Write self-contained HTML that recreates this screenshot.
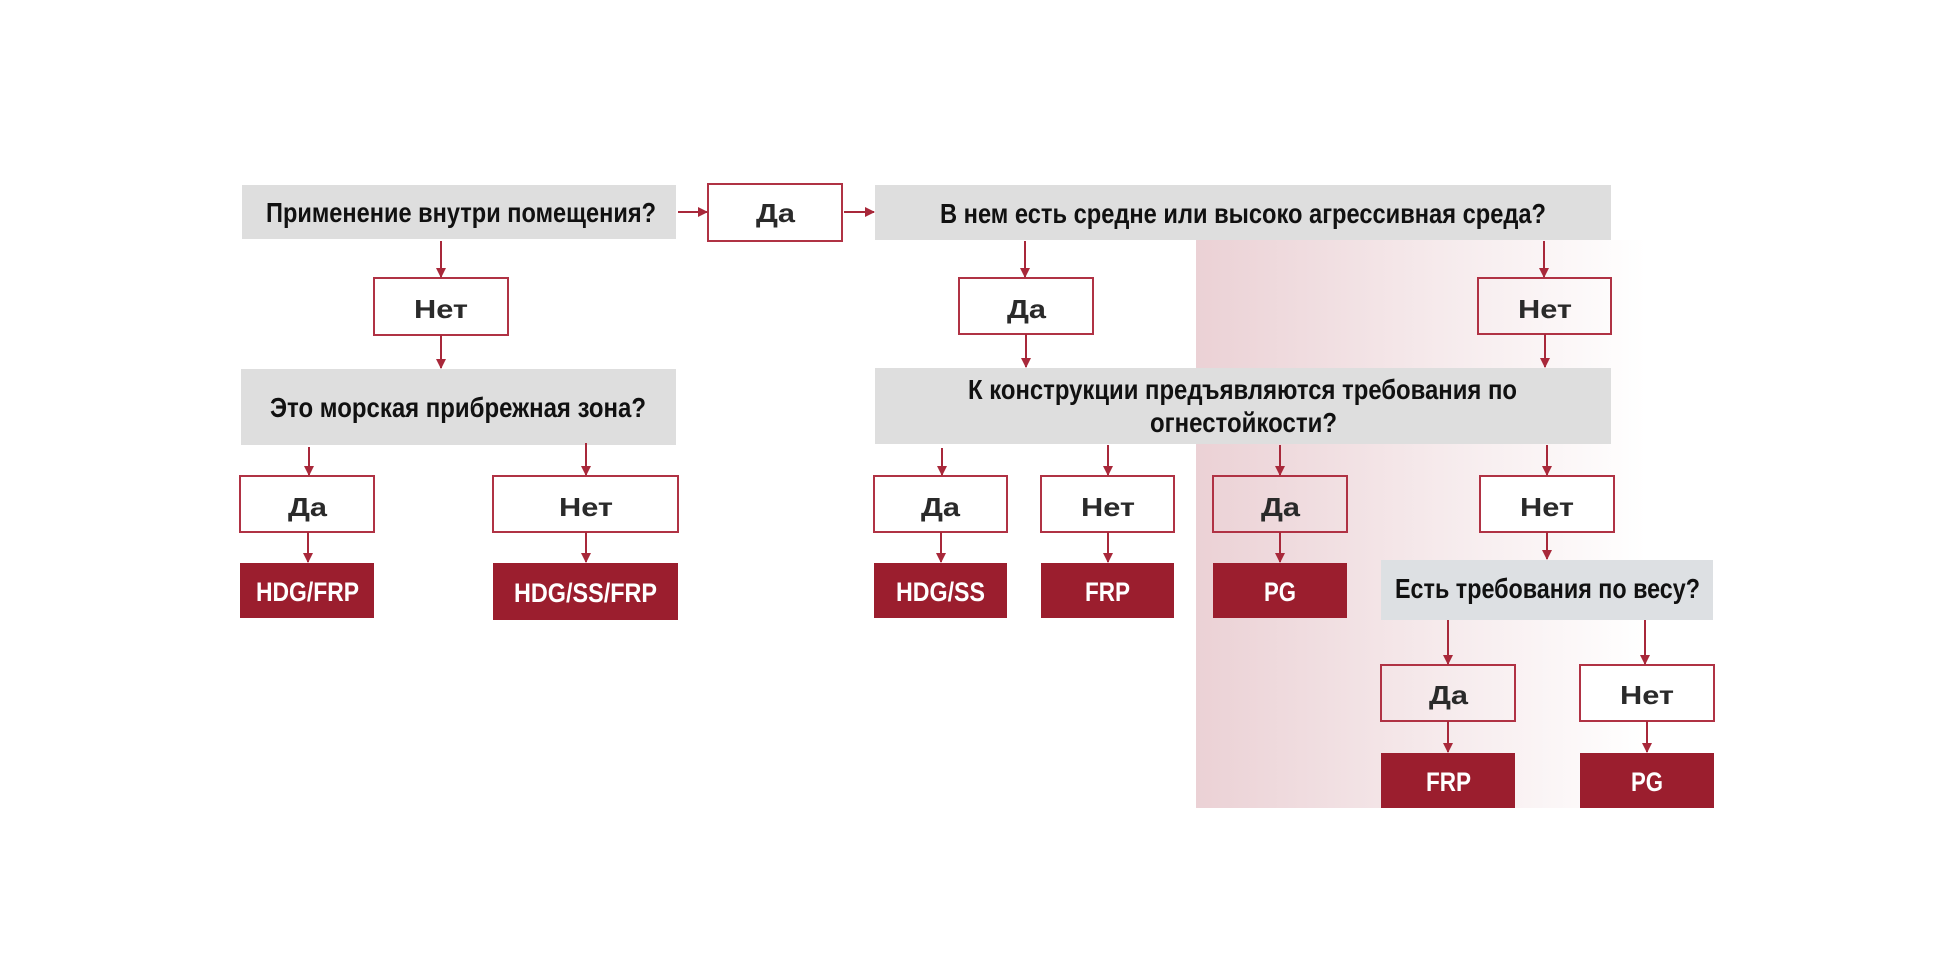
<!DOCTYPE html>
<html><head><meta charset="utf-8"><style>
html,body{margin:0;padding:0;background:#fff;}
svg{display:block;}
.q{font-family:"Liberation Sans",sans-serif;font-weight:bold;font-size:28px;fill:#111;}
.a{font-family:"Liberation Sans",sans-serif;font-weight:bold;font-size:26px;fill:#2a2a2a;}
.r{font-family:"Liberation Sans",sans-serif;font-weight:bold;font-size:27px;fill:#fff;}
.b{fill:#fff;stroke:#b03244;stroke-width:2;}
.bt{fill:none;stroke:#b03244;stroke-width:2;}
.res{fill:#9b1e2e;}
.g{fill:#dedede;}
.ln{stroke:#a8283a;stroke-width:2;}
</style></head><body>
<svg width="1960" height="971" viewBox="0 0 1960 971" xmlns="http://www.w3.org/2000/svg">
<defs>
<linearGradient id="pk" x1="0" x2="1" y1="0" y2="0">
<stop offset="0" stop-color="#ebd1d5"/>
<stop offset="0.45" stop-color="#f4e6e8"/>
<stop offset="1" stop-color="#ffffff"/>
</linearGradient>
<marker id="ar" markerWidth="10" markerHeight="10" refX="9" refY="5" orient="auto" markerUnits="userSpaceOnUse">
<path d="M0,0 L10,5 L0,10 z" fill="#a8283a"/>
</marker>
</defs>
<rect x="1196" y="240" width="450" height="568" fill="url(#pk)"/>

<rect class="g" x="242" y="185" width="434" height="54"/>
<rect class="g" x="875" y="185" width="736" height="55"/>
<rect class="g" x="241" y="369" width="435" height="76"/>
<rect class="g" x="875" y="368" width="736" height="76"/>
<rect x="1381" y="560" width="332" height="60" fill="#dde0e3"/>

<text class="q" x="266" y="222" textLength="390" lengthAdjust="spacingAndGlyphs">Применение внутри помещения?</text>
<text class="q" x="940" y="223" textLength="606" lengthAdjust="spacingAndGlyphs">В нем есть средне или высоко агрессивная среда?</text>
<text class="q" x="270" y="417" textLength="376" lengthAdjust="spacingAndGlyphs">Это морская прибрежная зона?</text>
<text class="q" x="968" y="399" textLength="549" lengthAdjust="spacingAndGlyphs">К конструкции предъявляются требования по</text>
<text class="q" x="1150" y="432" textLength="187" lengthAdjust="spacingAndGlyphs">огнестойкости?</text>
<text class="q" x="1395" y="598" textLength="305" lengthAdjust="spacingAndGlyphs">Есть требования по весу?</text>

<rect class="b" x="708" y="184" width="134" height="57"/><text class="a" x="756" y="222" textLength="39" lengthAdjust="spacingAndGlyphs">Да</text>
<rect class="b" x="374" y="278" width="134" height="57"/><text class="a" x="414" y="318" textLength="54" lengthAdjust="spacingAndGlyphs">Нет</text>
<rect class="b" x="240" y="476" width="134" height="56"/><text class="a" x="288" y="516" textLength="39" lengthAdjust="spacingAndGlyphs">Да</text>
<rect class="b" x="493" y="476" width="185" height="56"/><text class="a" x="559" y="516" textLength="54" lengthAdjust="spacingAndGlyphs">Нет</text>
<rect class="b" x="959" y="278" width="134" height="56"/><text class="a" x="1007" y="318" textLength="39" lengthAdjust="spacingAndGlyphs">Да</text>
<rect class="bt" x="1478" y="278" width="133" height="56"/><text class="a" x="1518" y="318" textLength="54" lengthAdjust="spacingAndGlyphs">Нет</text>
<rect class="b" x="874" y="476" width="133" height="56"/><text class="a" x="921" y="516" textLength="39" lengthAdjust="spacingAndGlyphs">Да</text>
<rect class="b" x="1041" y="476" width="133" height="56"/><text class="a" x="1081" y="516" textLength="54" lengthAdjust="spacingAndGlyphs">Нет</text>
<rect class="bt" x="1213" y="476" width="134" height="56"/><text class="a" x="1261" y="516" textLength="39" lengthAdjust="spacingAndGlyphs">Да</text>
<rect class="b" x="1480" y="476" width="134" height="56"/><text class="a" x="1520" y="516" textLength="54" lengthAdjust="spacingAndGlyphs">Нет</text>
<rect class="bt" x="1381" y="665" width="134" height="56"/><text class="a" x="1429" y="704" textLength="39" lengthAdjust="spacingAndGlyphs">Да</text>
<rect class="b" x="1580" y="665" width="134" height="56"/><text class="a" x="1620" y="704" textLength="54" lengthAdjust="spacingAndGlyphs">Нет</text>

<rect class="res" x="240" y="563" width="134" height="55"/><text class="r" x="256" y="601" textLength="103" lengthAdjust="spacingAndGlyphs">HDG/FRP</text>
<rect class="res" x="493" y="563" width="185" height="57"/><text class="r" x="514" y="602" textLength="143" lengthAdjust="spacingAndGlyphs">HDG/SS/FRP</text>
<rect class="res" x="874" y="563" width="133" height="55"/><text class="r" x="896" y="601" textLength="89" lengthAdjust="spacingAndGlyphs">HDG/SS</text>
<rect class="res" x="1041" y="563" width="133" height="55"/><text class="r" x="1085" y="601" textLength="45" lengthAdjust="spacingAndGlyphs">FRP</text>
<rect class="res" x="1213" y="563" width="134" height="55"/><text class="r" x="1264" y="601" textLength="32" lengthAdjust="spacingAndGlyphs">PG</text>
<rect class="res" x="1381" y="753" width="134" height="55"/><text class="r" x="1426" y="791" textLength="45" lengthAdjust="spacingAndGlyphs">FRP</text>
<rect class="res" x="1580" y="753" width="134" height="55"/><text class="r" x="1631" y="791" textLength="32" lengthAdjust="spacingAndGlyphs">PG</text>

<g class="ln" marker-end="url(#ar)">
<line x1="678" y1="212" x2="707" y2="212"/>
<line x1="844" y1="212" x2="874" y2="212"/>
<line x1="441" y1="241" x2="441" y2="277"/>
<line x1="441" y1="335" x2="441" y2="368"/>
<line x1="309" y1="447" x2="309" y2="475"/>
<line x1="586" y1="443" x2="586" y2="475"/>
<line x1="308" y1="532" x2="308" y2="562"/>
<line x1="586" y1="532" x2="586" y2="562"/>
<line x1="1025" y1="241" x2="1025" y2="277"/>
<line x1="1544" y1="241" x2="1544" y2="277"/>
<line x1="1026" y1="334" x2="1026" y2="367"/>
<line x1="1545" y1="334" x2="1545" y2="367"/>
<line x1="942" y1="448" x2="942" y2="475"/>
<line x1="1108" y1="445" x2="1108" y2="475"/>
<line x1="1280" y1="445" x2="1280" y2="475"/>
<line x1="1547" y1="445" x2="1547" y2="475"/>
<line x1="941" y1="532" x2="941" y2="562"/>
<line x1="1108" y1="532" x2="1108" y2="562"/>
<line x1="1280" y1="532" x2="1280" y2="562"/>
<line x1="1547" y1="532" x2="1547" y2="559"/>
<line x1="1448" y1="620" x2="1448" y2="664"/>
<line x1="1645" y1="620" x2="1645" y2="664"/>
<line x1="1448" y1="721" x2="1448" y2="752"/>
<line x1="1647" y1="721" x2="1647" y2="752"/>
</g>
</svg>
</body></html>
